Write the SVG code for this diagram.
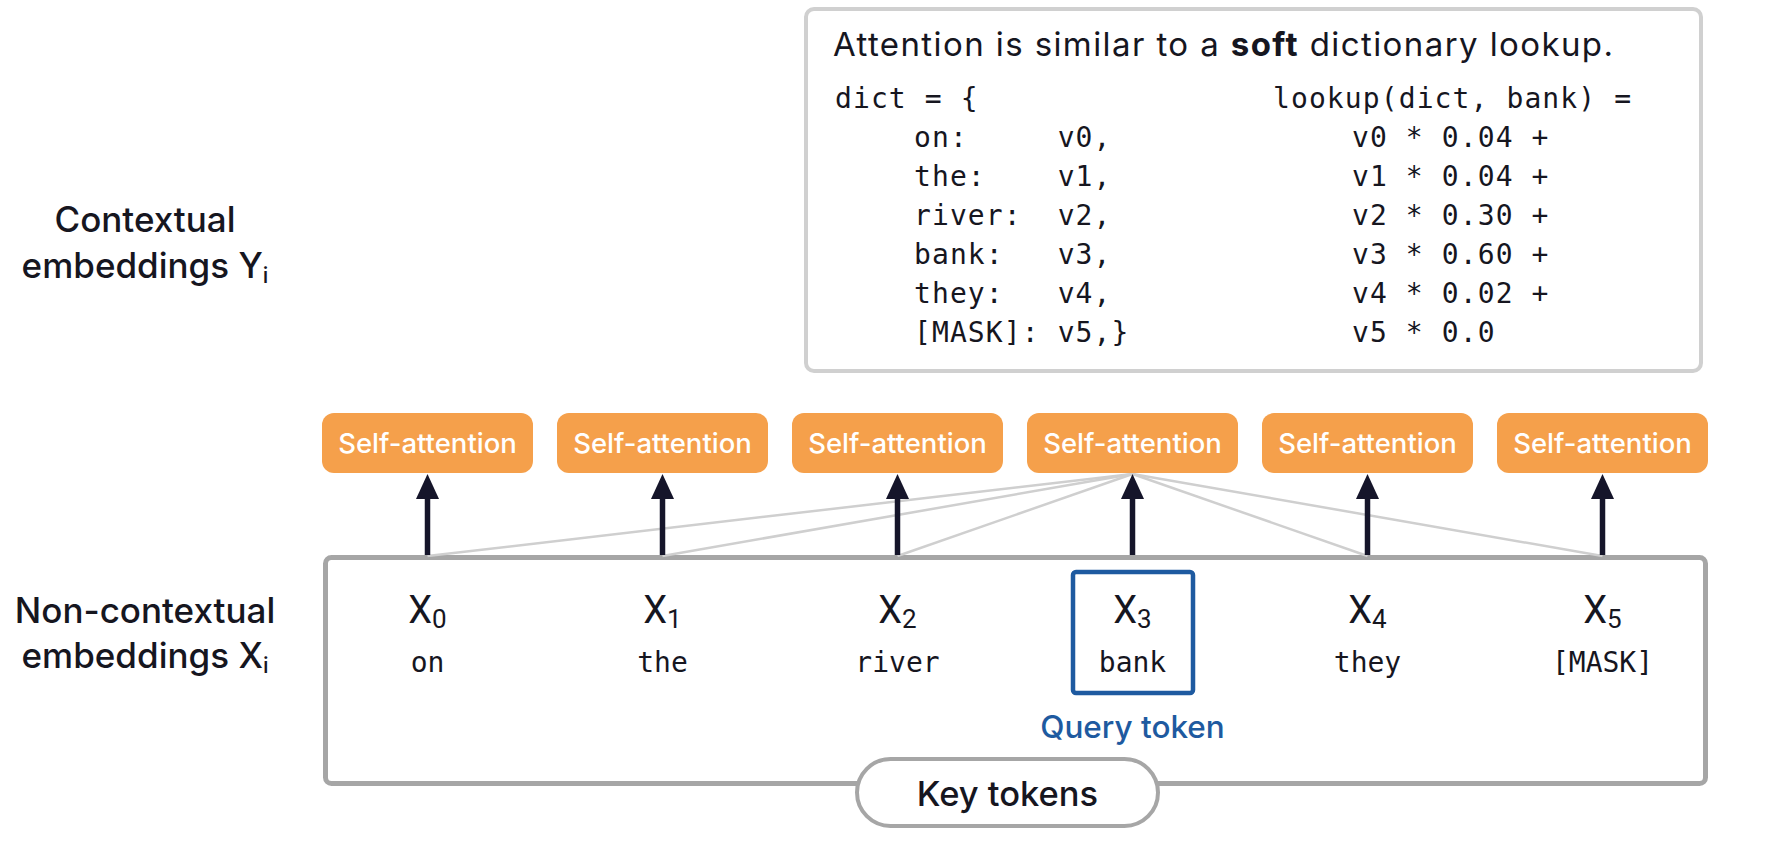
<svg xmlns="http://www.w3.org/2000/svg" width="1780" height="852" viewBox="0 0 1780 852">
<style>
.sans{font-family:Inter,"Noto Sans",sans-serif;fill:#16161f}
.mono{font-family:"DejaVu Sans Mono","Liberation Mono",monospace;fill:#16161f}
.code{font-size:28px;letter-spacing:1.1px;white-space:pre}
.lbl{font-size:35px;font-weight:500;text-anchor:middle}
.sa rect{fill:#F5A04B}
.sa text{font-family:Inter,"Noto Sans",sans-serif;font-size:27.5px;font-weight:500;fill:#ffffff;text-anchor:middle}
.tok text{text-anchor:middle}
.xl{font-family:Roboto,"Noto Sans",sans-serif;font-size:38px;fill:#16161f}
.xs{font-size:26px}
.word{font-size:28px}
.arrow{stroke:#15152a;stroke-width:5.5;fill:none}
.head{fill:#15152a}
.att{stroke:#cfcfcf;stroke-width:2.5;fill:none}
</style>
<rect width="1780" height="852" fill="#ffffff"/>

<g id="lookup-box">
<rect x="806" y="9" width="895" height="362" rx="8" fill="#ffffff" stroke="#d0d0d0" stroke-width="4"/>
<text class="sans" x="833" y="56" font-size="33" textLength="780" lengthAdjust="spacing">Attention is similar to a <tspan font-weight="700">soft</tspan> dictionary lookup.</text>
<g class="mono code">
<text xml:space="preserve" x="835" y="108">dict = {</text>
<text xml:space="preserve" x="914" y="147">on:     v0,</text>
<text xml:space="preserve" x="914" y="186">the:    v1,</text>
<text xml:space="preserve" x="914" y="225">river:  v2,</text>
<text xml:space="preserve" x="914" y="264">bank:   v3,</text>
<text xml:space="preserve" x="914" y="303">they:   v4,</text>
<text xml:space="preserve" x="914" y="342">[MASK]: v5,}</text>
<text xml:space="preserve" x="1273" y="108">lookup(dict, bank) =</text>
<text xml:space="preserve" x="1352" y="147">v0 * 0.04 +</text>
<text xml:space="preserve" x="1352" y="186">v1 * 0.04 +</text>
<text xml:space="preserve" x="1352" y="225">v2 * 0.30 +</text>
<text xml:space="preserve" x="1352" y="264">v3 * 0.60 +</text>
<text xml:space="preserve" x="1352" y="303">v4 * 0.02 +</text>
<text xml:space="preserve" x="1352" y="342">v5 * 0.0</text>
</g>
</g>

<g id="label-contextual">
<text class="sans lbl" x="145" y="232">Contextual</text>
<text class="sans lbl" x="145" y="278">embeddings Y<tspan font-size="22" dy="5">i</tspan></text>
</g>
<g id="label-noncontextual">
<text class="sans lbl" x="145" y="623">Non-contextual</text>
<text class="sans lbl" x="145" y="668">embeddings X<tspan font-size="22" dy="5">i</tspan></text>
</g>

<g id="key-tokens-box">
<rect x="325.5" y="557.5" width="1380" height="226" rx="6" fill="#ffffff" stroke="#a6a6a6" stroke-width="5"/>
</g>

<g id="connectors">
<g class="attention-lines">
<line class="att" x1="1132.5" y1="474" x2="427.5" y2="556"/>
<line class="att" x1="1132.5" y1="474" x2="662.5" y2="556"/>
<line class="att" x1="1132.5" y1="474" x2="897.5" y2="556"/>
<line class="att" x1="1132.5" y1="474" x2="1367.5" y2="556"/>
<line class="att" x1="1132.5" y1="474" x2="1602.5" y2="556"/>
</g>
<g class="arrows">
<line class="arrow" x1="427.5" y1="555" x2="427.5" y2="494"/>
<polygon class="head" points="427.5,474 416,499 439,499"/>
<line class="arrow" x1="662.5" y1="555" x2="662.5" y2="494"/>
<polygon class="head" points="662.5,474 651,499 674,499"/>
<line class="arrow" x1="897.5" y1="555" x2="897.5" y2="494"/>
<polygon class="head" points="897.5,474 886,499 909,499"/>
<line class="arrow" x1="1132.5" y1="555" x2="1132.5" y2="494"/>
<polygon class="head" points="1132.5,474 1121,499 1144,499"/>
<line class="arrow" x1="1367.5" y1="555" x2="1367.5" y2="494"/>
<polygon class="head" points="1367.5,474 1356,499 1379,499"/>
<line class="arrow" x1="1602.5" y1="555" x2="1602.5" y2="494"/>
<polygon class="head" points="1602.5,474 1591,499 1614,499"/>
</g>
</g>

<g id="sa0" class="sa"><rect x="322" y="413" width="211" height="60" rx="12"/><text x="427.5" y="453">Self-attention</text></g>
<g id="sa1" class="sa"><rect x="557" y="413" width="211" height="60" rx="12"/><text x="662.5" y="453">Self-attention</text></g>
<g id="sa2" class="sa"><rect x="792" y="413" width="211" height="60" rx="12"/><text x="897.5" y="453">Self-attention</text></g>
<g id="sa3" class="sa"><rect x="1027" y="413" width="211" height="60" rx="12"/><text x="1132.5" y="453">Self-attention</text></g>
<g id="sa4" class="sa"><rect x="1262" y="413" width="211" height="60" rx="12"/><text x="1367.5" y="453">Self-attention</text></g>
<g id="sa5" class="sa"><rect x="1497" y="413" width="211" height="60" rx="12"/><text x="1602.5" y="453">Self-attention</text></g>

<g id="tok0" class="tok"><text class="xl" x="427.5" y="623">X<tspan class="xs" dy="5">0</tspan></text><text class="mono word" x="427.5" y="672">on</text></g>
<g id="tok1" class="tok"><text class="xl" x="662.5" y="623">X<tspan class="xs" dy="5">1</tspan></text><text class="mono word" x="662.5" y="672">the</text></g>
<g id="tok2" class="tok"><text class="xl" x="897.5" y="623">X<tspan class="xs" dy="5">2</tspan></text><text class="mono word" x="897.5" y="672">river</text></g>
<g id="tok3" class="tok">
<rect x="1073" y="572" width="120" height="121" rx="3" fill="none" stroke="#1e5aa0" stroke-width="4.5"/>
<text class="xl" x="1132.5" y="623">X<tspan class="xs" dy="5">3</tspan></text><text class="mono word" x="1132.5" y="672">bank</text>
<text x="1132.5" y="738" font-family="Inter,'Noto Sans',sans-serif" font-size="31.5" font-weight="500" fill="#1e5aa0">Query token</text>
</g>
<g id="tok4" class="tok"><text class="xl" x="1367.5" y="623">X<tspan class="xs" dy="5">4</tspan></text><text class="mono word" x="1367.5" y="672">they</text></g>
<g id="tok5" class="tok"><text class="xl" x="1602.5" y="623">X<tspan class="xs" dy="5">5</tspan></text><text class="mono word" x="1602.5" y="672">[MASK]</text></g>

<g id="key-tokens-pill">
<rect x="857" y="759" width="301" height="67" rx="33.5" fill="#ffffff" stroke="#a6a6a6" stroke-width="4"/>
<text class="sans" x="1007.5" y="806" font-size="34.5" font-weight="500" text-anchor="middle">Key tokens</text>
</g>
</svg>
